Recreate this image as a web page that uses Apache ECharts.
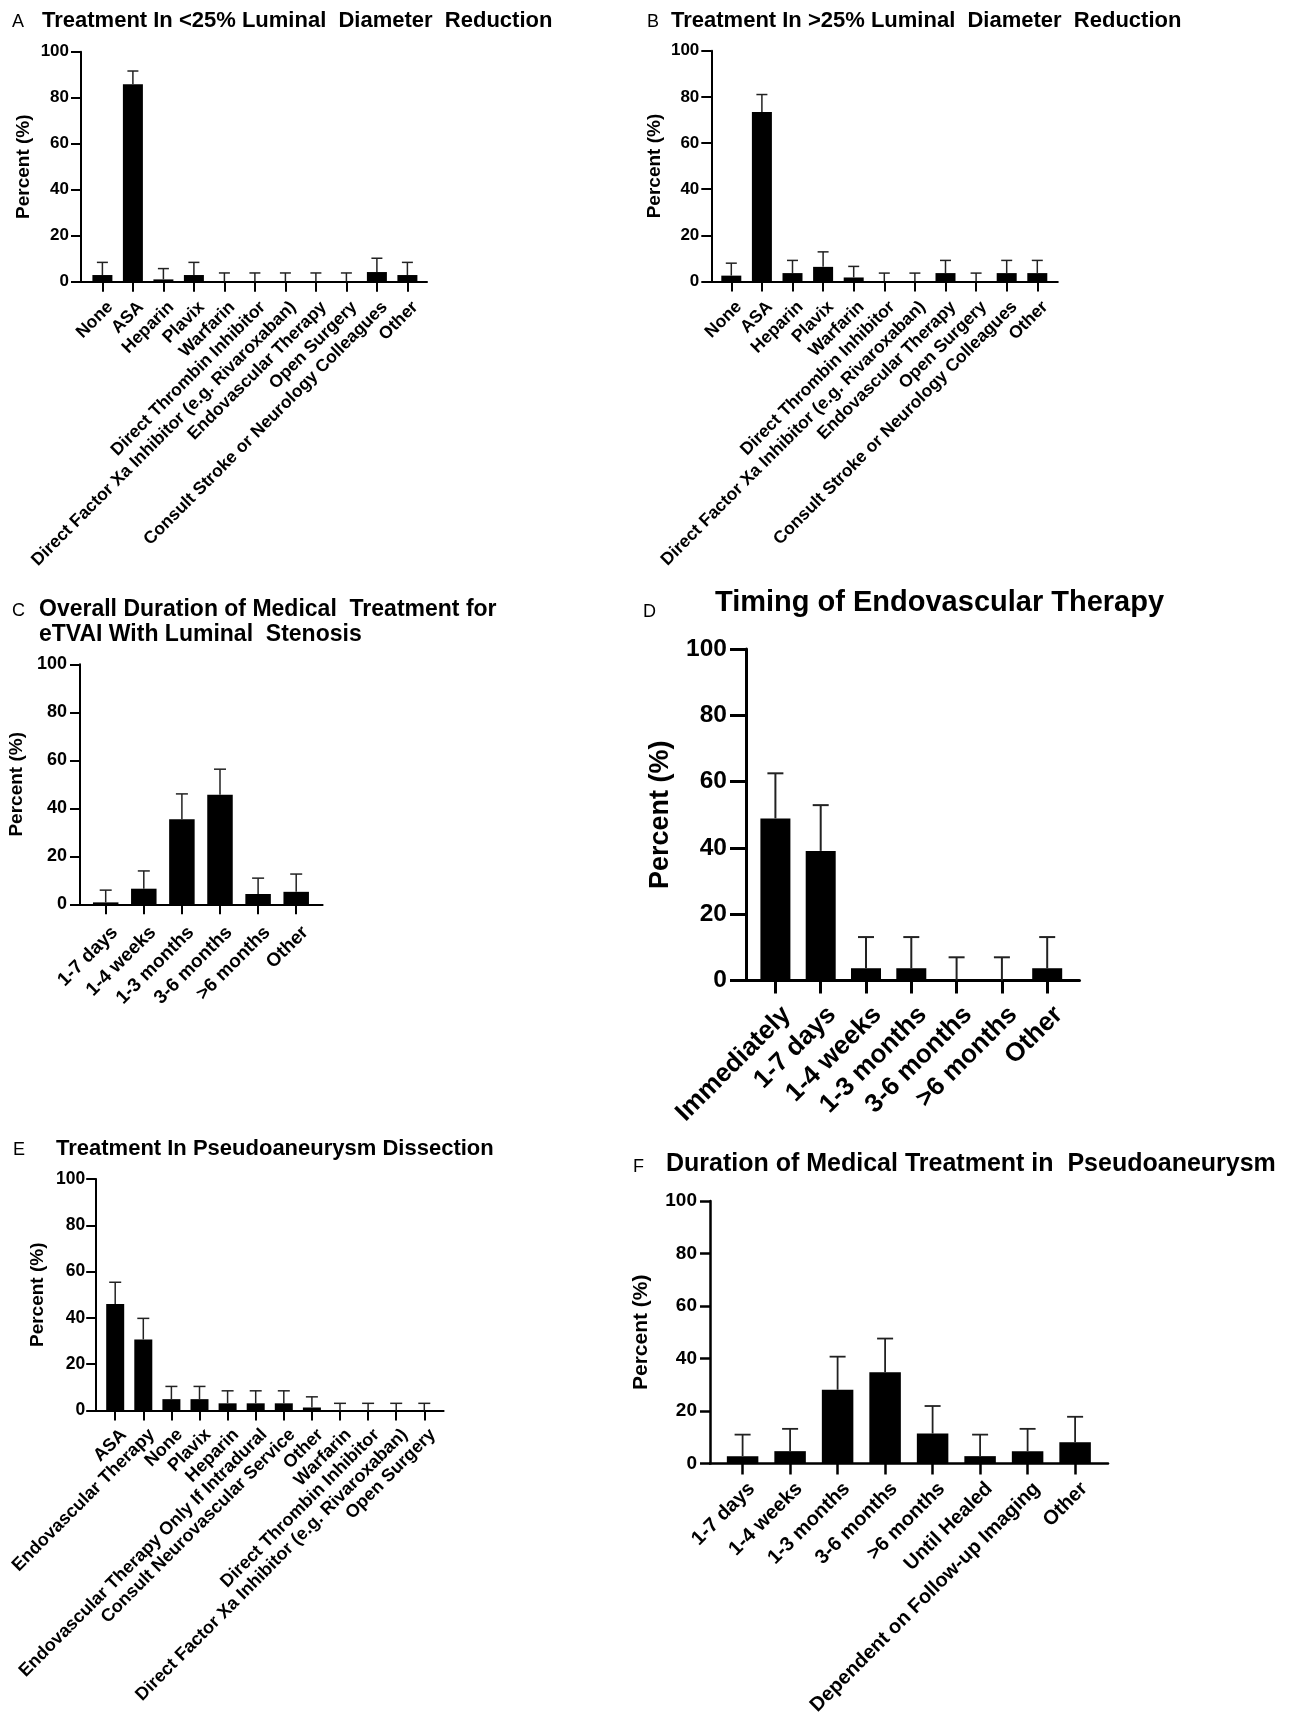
<!DOCTYPE html>
<html>
<head>
<meta charset="utf-8">
<script src="https://cdn.jsdelivr.net/npm/echarts@6/dist/echarts.min.js"></script>
<style>
  html, body { margin: 0; padding: 0; background: #fff; }
  #chart { width: 1304px; height: 1719px; }
</style>
</head>
<body>
<div id="chart"></div>
<script>
"use strict";

var FONT = "'Liberation Sans', Arial, sans-serif";

// A: <25% luminal diameter reduction
var catsA = ['None', 'ASA', 'Heparin', 'Plavix', 'Warfarin', 'Direct Thrombin Inhibitor',
    'Direct Factor Xa Inhibitor (e.g. Rivaroxaban)', 'Endovascular Therapy', 'Open Surgery',
    'Consult Stroke or Neurology Colleagues', 'Other'];
var valsA = [2.9, 85.9, 1.0, 2.9, 0, 0, 0, 0, 0, 4.2, 2.9];
var errA = [8.4, 91.6, 5.7, 8.4, 3.8, 3.8, 3.8, 3.8, 3.8, 10.2, 8.4];

// B: >25% luminal diameter reduction
var catsB = catsA;
var valsB = [2.5, 73.4, 3.6, 6.3, 1.7, 0, 0, 3.6, 0, 3.6, 3.6];
var errB = [7.9, 81.0, 9.1, 12.8, 6.5, 3.6, 3.6, 9.1, 3.6, 9.1, 9.1];

// C: overall duration of medical treatment
var catsC = ['1-7 days', '1-4 weeks', '1-3 months', '3-6 months', '>6 months', 'Other'];
var valsC = [0.8, 6.5, 35.4, 45.6, 4.3, 5.2];
var errC = [5.9, 13.9, 46.0, 56.3, 10.9, 12.6];

// D: timing of endovascular therapy
var catsD = ['Immediately', '1-7 days', '1-4 weeks', '1-3 months', '3-6 months', '>6 months', 'Other'];
var valsD = [48.9, 39.1, 3.7, 3.7, 0, 0, 3.7];
var errD = [62.5, 52.9, 13.1, 13.1, 7.0, 7.0, 13.1];

// E: treatment in pseudoaneurysm dissection
var catsE = ['ASA', 'Endovascular Therapy', 'None', 'Plavix', 'Heparin',
    'Endovascular Therapy Only If Intradural', 'Consult Neurovascular Service', 'Other',
    'Warfarin', 'Direct Thrombin Inhibitor', 'Direct Factor Xa Inhibitor (e.g. Rivaroxaban)', 'Open Surgery'];
var valsE = [46.0, 30.7, 4.9, 4.9, 3.1, 3.1, 3.1, 1.3, 0, 0, 0, 0];
var errE = [55.4, 39.8, 10.4, 10.4, 8.5, 8.5, 8.5, 5.9, 3.1, 3.1, 3.1, 3.1];

// F: duration of medical treatment in pseudoaneurysm
var catsF = ['1-7 days', '1-4 weeks', '1-3 months', '3-6 months', '>6 months', 'Until Healed',
    'Dependent on Follow-up Imaging', 'Other'];
var valsF = [2.8, 4.7, 28.1, 34.8, 11.4, 2.8, 4.7, 8.1];
var errF = [11.0, 13.2, 40.7, 47.6, 21.9, 11.0, 13.2, 17.8];

// layout of each panel, in page pixels
var panels = [
    {cats: catsA, vals: valsA, errs: errA, yX: 81, top: 51.7, y0: 281.7, first: 102.4, step: 30.5, xEnd: 427,
        barW: 20, cap: 5.5, axisW: 2, yTick: 10, xTick: 10, tickFs: 17, tickMargin: 12, nameFs: 19, nameGap: 48,
        labelFs: 17.5, labelLH: 22, labelMargin: 15, errW: 1.5},
    {cats: catsB, vals: valsB, errs: errB, yX: 711.3, top: 50.7, y0: 281.4, first: 731.3, step: 30.6, xEnd: 1057.8,
        barW: 20, cap: 5.5, axisW: 2, yTick: 10, xTick: 10, tickFs: 17, tickMargin: 12, nameFs: 19, nameGap: 47,
        labelFs: 17.5, labelLH: 22, labelMargin: 15, errW: 1.5},
    {cats: catsC, vals: valsC, errs: errC, yX: 80, top: 664.3, y0: 904.3, first: 105.7, step: 38.1, xEnd: 322.6,
        barW: 25.5, cap: 6, axisW: 2, yTick: 10, xTick: 10, tickFs: 18, tickMargin: 13, nameFs: 19, nameGap: 54,
        labelFs: 19, labelLH: 26, labelMargin: 16, errW: 1.5},
    {cats: catsD, vals: valsD, errs: errD, yX: 746, top: 649, y0: 980.5, first: 775.4, step: 45.3, xEnd: 1079.5,
        barW: 30, cap: 8, axisW: 3, yTick: 16, xTick: 13, tickFs: 24.5, tickMargin: 19, nameFs: 27, nameGap: 72,
        labelFs: 26, labelLH: 32, labelMargin: 19, errW: 2},
    {cats: catsE, vals: valsE, errs: errE, yX: 96.2, top: 1179, y0: 1410.5, first: 115.2, step: 28.1, xEnd: 443.6,
        barW: 18, cap: 6, axisW: 2, yTick: 10, xTick: 10, tickFs: 17.5, tickMargin: 11, nameFs: 19, nameGap: 49,
        labelFs: 18, labelLH: 24, labelMargin: 13, errW: 1.5},
    {cats: catsF, vals: valsF, errs: errF, yX: 710, top: 1201, y0: 1463.5, first: 742.6, step: 47.5, xEnd: 1108,
        barW: 31.5, cap: 8, axisW: 2.5, yTick: 10, xTick: 11, tickFs: 19, tickMargin: 13, nameFs: 21, nameGap: 58,
        labelFs: 20, labelLH: 26, labelMargin: 13, errW: 1.8}
];

// panel letters and titles: [text, x, baseline, size, bold]
var titles = [
    ['A', 12, 28, 18, false],
    ['Treatment In <25% Luminal  Diameter  Reduction', 42, 28, 22, true],
    ['B', 647, 28, 18, false],
    ['Treatment In >25% Luminal  Diameter  Reduction', 671, 28, 22, true],
    ['C', 12, 617, 18, false],
    ['Overall Duration of Medical  Treatment for', 39, 617, 23, true],
    ['eTVAI With Luminal  Stenosis', 39, 642, 23, true],
    ['D', 643, 618, 18, false],
    ['Timing of Endovascular Therapy', 715, 613, 29, true],
    ['E', 13, 1156, 18, false],
    ['Treatment In Pseudoaneurysm Dissection', 56, 1156, 22, true],
    ['F', 633, 1173, 18, false],
    ['Duration of Medical Treatment in  Pseudoaneurysm', 666, 1173, 25, true]
];

function errorBar(p) {
    return function (params, api) {
        var lo = api.coord([api.value(0), api.value(1)]);
        var hi = api.coord([api.value(0), api.value(2)]);
        var style = {stroke: '#222', lineWidth: p.errW};
        return {
            type: 'group',
            children: [
                {type: 'line', shape: {x1: lo[0], y1: lo[1], x2: hi[0], y2: hi[1]}, style: style},
                {type: 'line', shape: {x1: hi[0] - p.cap, y1: hi[1], x2: hi[0] + p.cap, y2: hi[1]}, style: style}
            ]
        };
    };
}

var grids = [], xAxes = [], yAxes = [], series = [];

panels.forEach(function (p) {
    var n = p.cats.length;
    var frame = grids.length;
    var plot = frame + 1;
    var axisStyle = {color: '#000', width: p.axisW};

    // frame grid: the visible y axis and the full-length x axis line
    grids.push({left: p.yX, top: p.top, width: p.xEnd - p.yX, height: p.y0 - p.top,
        outerBoundsMode: 'none', containLabel: false});
    // plot grid: one band per category, for bars, ticks and labels
    grids.push({left: p.first - p.step / 2, top: p.top, width: n * p.step, height: p.y0 - p.top,
        outerBoundsMode: 'none', containLabel: false});

    xAxes.push({
        type: 'value', gridIndex: frame, min: 0, max: 1,
        splitLine: {show: false},
        axisLine: {show: true, onZero: false, lineStyle: axisStyle},
        axisTick: {show: false},
        axisLabel: {show: false}
    });
    xAxes.push({
        type: 'category', gridIndex: plot, data: p.cats,
        axisLine: {show: false},
        axisTick: {show: true, alignWithLabel: true, interval: 0, length: p.xTick, lineStyle: axisStyle},
        axisLabel: {
            interval: 0,
            rotate: 45,
            margin: p.labelMargin,
            verticalAlign: 'top',
            lineHeight: p.labelLH,
            color: '#000',
            fontFamily: FONT,
            fontWeight: 'bold',
            fontSize: p.labelFs
        }
    });
    yAxes.push({
        type: 'value', gridIndex: frame, min: 0, max: 100, interval: 20,
        name: 'Percent (%)',
        nameLocation: 'middle',
        nameRotate: 90,
        nameGap: p.nameGap,
        nameMoveOverlap: false,
        nameTextStyle: {color: '#000', fontFamily: FONT, fontWeight: 'bold', fontSize: p.nameFs},
        splitLine: {show: false},
        axisLine: {show: true, onZero: false, lineStyle: axisStyle},
        axisTick: {show: true, length: p.yTick, lineStyle: axisStyle},
        axisLabel: {
            margin: p.tickMargin,
            color: '#000',
            fontFamily: FONT,
            fontWeight: 'bold',
            fontSize: p.tickFs
        }
    });
    yAxes.push({
        type: 'value', gridIndex: plot, min: 0, max: 100, show: false
    });

    series.push({
        type: 'bar',
        xAxisIndex: plot,
        yAxisIndex: plot,
        barWidth: p.barW,
        itemStyle: {color: '#000'},
        data: p.vals
    });
    series.push({
        type: 'custom',
        xAxisIndex: plot,
        yAxisIndex: plot,
        z: 5,
        renderItem: errorBar(p),
        encode: {x: 0, y: [1, 2]},
        data: p.vals.map(function (v, i) { return [i, v, p.errs[i]]; })
    });
});

var graphics = titles.map(function (t) {
    return {
        type: 'text',
        style: {
            text: t[0],
            x: t[1],
            y: t[2] - 0.34 * t[3],
            fill: '#000',
            font: (t[4] ? 'bold ' : '') + t[3] + 'px ' + FONT,
            verticalAlign: 'middle'
        }
    };
});

var chart = echarts.init(document.getElementById('chart'));
chart.setOption({
    backgroundColor: '#fff',
    animation: false,
    grid: grids,
    xAxis: xAxes,
    yAxis: yAxes,
    series: series,
    graphic: graphics
});
</script>
</body>
</html>
